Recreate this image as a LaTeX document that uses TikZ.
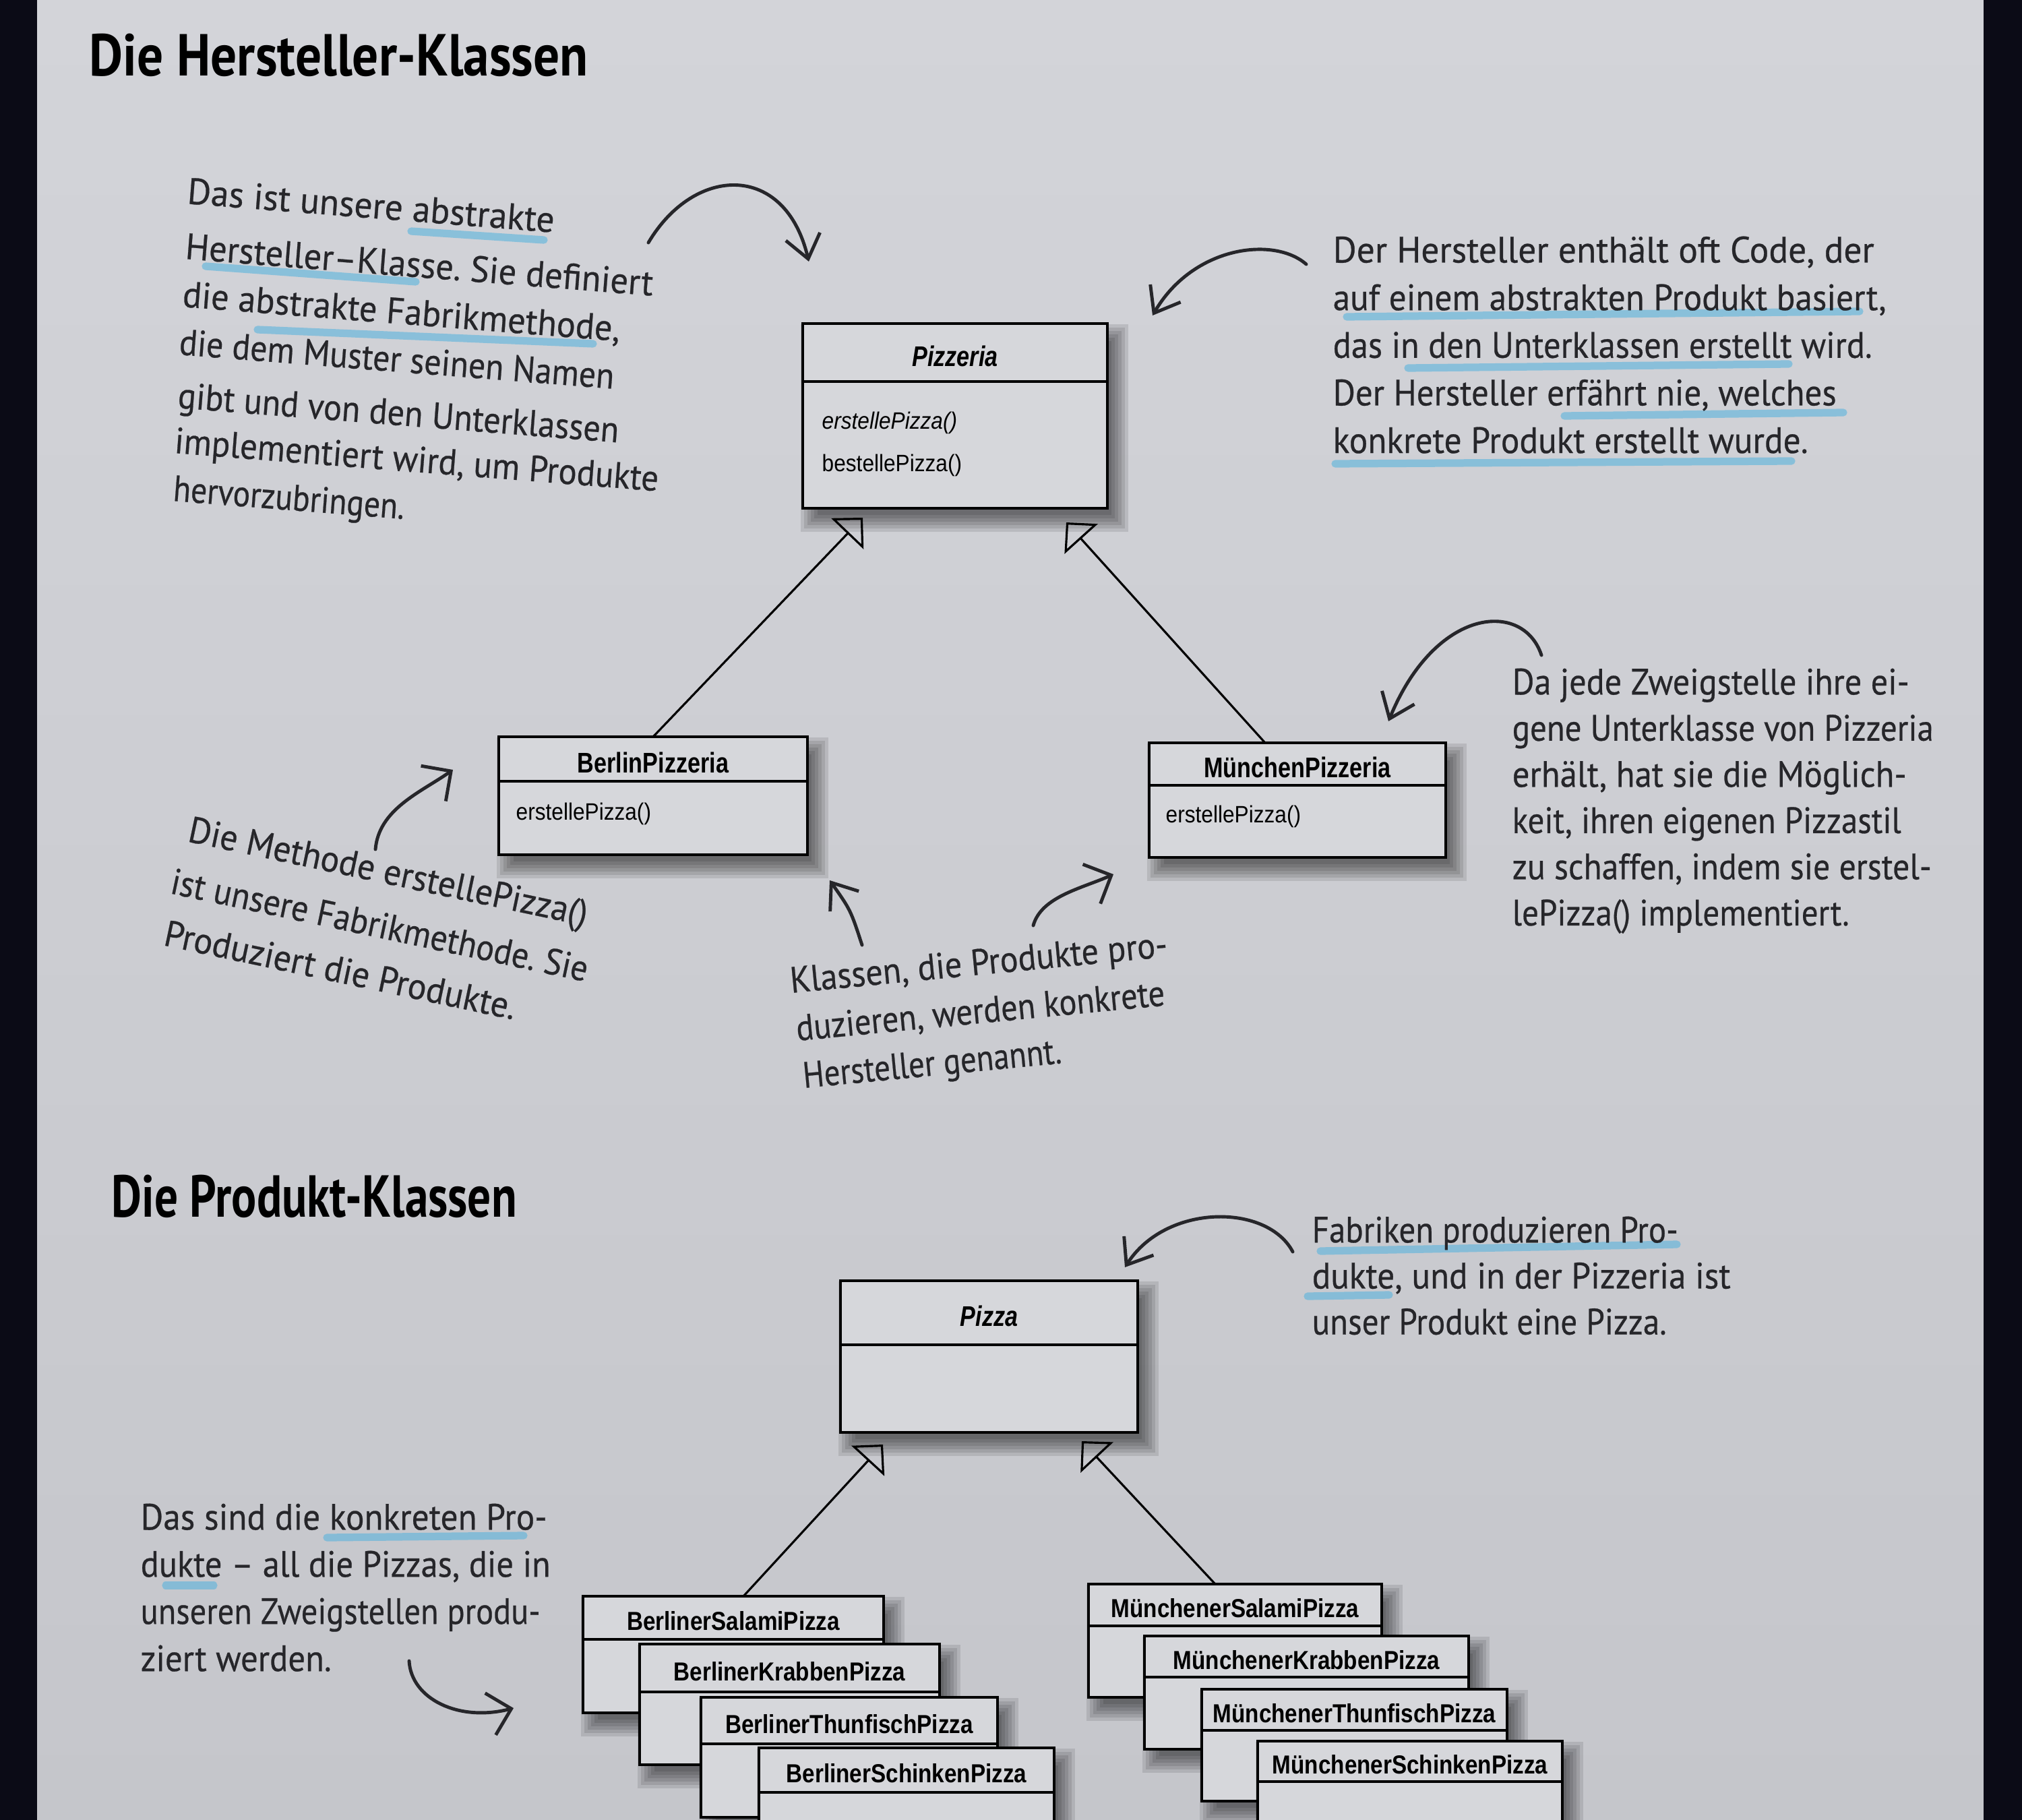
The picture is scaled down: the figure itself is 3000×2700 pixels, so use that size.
\documentclass[tikz,border=0pt]{standalone}
\usepackage{fontspec}
\usepackage{graphicx}
\usetikzlibrary{arrows.meta,calc}
\newfontfamily\hwfont[FakeBold=0.5]{PT Sans}
\newfontfamily\ttlfont{PT Sans}
\newfontfamily\umlfont[FakeStretch=0.81]{Liberation Sans}
\newfontfamily\umlsmall[FakeStretch=0.86]{Liberation Sans}
\newfontfamily\umlmeth[FakeStretch=0.9]{Liberation Sans}
\newlength\pxu \setlength\pxu{0.1mm}
\newcommand\hw[2]{\resizebox{#1\pxu}{\height}{#2}}
\newcommand\hwsetfont{\hwfont\fontsize{15.5}{20}\selectfont}
\newcounter{hwc}
\newdimen\hwlinew
\newdimen\hwwordw
\newdimen\hwspw
\makeatletter
% measure a slanted handwritten line (outside the picture): #1 key, #2 target width px, #3 words
\newcommand\hwmeasure[3]{%
  \settowidth\hwspw{\hwsetfont\ }%
  \global\hwlinew=-\hwspw
  \foreach \w in {#3}{\settowidth\hwwordw{\hwsetfont\w}\global\advance\hwlinew by \dimexpr\hwwordw+\hwspw\relax}%
  \pgfmathsetmacro\hwk{(#2*0.1mm)/(\the\hwlinew)}%
  \expandafter\xdef\csname hwk@#1\endcsname{\hwk}%
  \xdef\hwpos{0}%
  \global\let\hwlist\@empty
  \foreach \w in {#3}{%
    \settowidth\hwwordw{\hwsetfont\w}%
    \ifx\hwlist\@empty\xdef\hwlist{\hwpos/{\w}}\else\xdef\hwlist{\hwlist,\hwpos/{\w}}\fi
    \pgfmathsetmacro\hwnext{\hwpos+\hwk*(\the\hwwordw+\the\hwspw)/(0.1mm)}%
    \xdef\hwpos{\hwnext}%
  }%
  \expandafter\xdef\csname hwl@#1\endcsname{\hwlist}%
}
% place a measured line word by word (inside a rotated scope)
\newcommand\hwplace[1]{%
  \edef\hwkk{\csname hwk@#1\endcsname}%
  \edef\hwlistx{\csname hwl@#1\endcsname}%
  \foreach \p/\w in \hwlistx {%
    \stepcounter{hwc}%
    \node[hword] (hw\arabic{hwc}) at (\p,0) {\scalebox{\hwkk}[1]{\w}};%
  }%
}
\makeatother
\definecolor{pagetop}{HTML}{D3D4D9}
\definecolor{pagebot}{HTML}{C5C6CB}
\definecolor{edgecol}{HTML}{0B0B16}
\definecolor{boxcol}{HTML}{D6D7DB}
\definecolor{inkcol}{HTML}{26262A}
\definecolor{hlcol}{HTML}{4FB2DE}
\newcommand\boxshadow[4]{%
  \foreach \e in {-8,-3,2,7,12,17}{%
    \fill[black,opacity=0.1] ({#1+14-\e},{#2+18-\e}) rectangle ({#3+14+\e},{#4+18+\e});
  }}
\newcommand\umlclass[7]{%
  \boxshadow{#2}{#3}{#4}{#5}%
  \node[umlbox, anchor=north west, minimum width={(#4-#2)*0.1mm}, minimum height={(#5-#3)*0.1mm}] (#1) at (#2,#3) {};%
  \draw[umlline] (#2,#6) -- (#4,#6);%
  \node[umltitle] (#1t) at ({(#2+#4)/2},{(#3+#6)/2+5}) {#7};%
}
\begin{document}
\hwmeasure{A1}{546}{Das,ist,unsere,abstrakte}%
\hwmeasure{A2}{696}{Hersteller–Klasse.,Sie,definiert}%
\hwmeasure{A3}{651}{die,abstrakte,{Fabrikmethode,}}%
\hwmeasure{A4}{647}{die,dem,Muster,seinen,Namen}%
\hwmeasure{A5}{656}{gibt,und,von,den,Unterklassen}%
\hwmeasure{A6}{720}{implementiert,{wird,},um,Produkte}%
\hwmeasure{A7}{344}{hervorzubringen.}%
\hwmeasure{C1}{604}{Die,Methode,erstellePizza()}%
\hwmeasure{C2}{631}{ist,unsere,Fabrikmethode.,Sie}%
\hwmeasure{C3}{532}{Produziert,die,Produkte.}%
\hwmeasure{D1}{562}{{Klassen,},die,Produkte,pro-}%
\hwmeasure{D2}{549}{{duzieren,},werden,konkrete}%
\hwmeasure{D3}{385}{Hersteller,genannt.}%
\begin{tikzpicture}[x=0.1mm,y=-0.1mm,
  umlbox/.style={draw=black, line width=1.1pt, fill=boxcol, inner sep=0pt, outer sep=0pt},
  umlline/.style={draw=black, line width=1.1pt},
  umltitle/.style={inner sep=0pt, text=black, font=\umlfont\bfseries\fontsize{12}{14}\selectfont},
  umlmethod/.style={anchor=west, inner sep=0pt, text=black, font=\umlmeth\fontsize{10}{12}\selectfont},
  hwblock/.style={anchor=north west, align=left, inner sep=0pt, text=inkcol},
  hwf/.style={font=\hwfont\fontsize{15.5}{#1}\selectfont},
  hword/.style={anchor=base west, inner sep=0pt, outer sep=0pt, text=inkcol, font=\hwsetfont},
  ttl/.style={anchor=base west, inner sep=0pt, text=black, font=\ttlfont\bfseries\fontsize{25}{30}\selectfont},
  hl/.style={draw=hlcol, line width=3.2pt, opacity=0.55, line cap=round},
  gen/.style={draw=black, line width=0.9pt, -{Triangle[open, length=3.3mm, width=6.6mm]}},
  hwarrow/.style={draw=inkcol, line width=1.4pt, line cap=round, -{Straight Barb[length=3.4mm, width=5.2mm]}},
  hwarrowb/.style={draw=inkcol, line width=1.4pt, line cap=round, -{Straight Barb[length=3.2mm, width=6.4mm]}}
]
\useasboundingbox (0,0) rectangle (3000,2700);
\clip (0,0) rectangle (3000,2700);
% page
\shade[top color=pagetop, bottom color=pagebot] (0,0) rectangle (3000,2700);

% highlighter marks
\draw[hl] (610,343) -- (807,356);
\draw[hl] (305,395) -- (617,418);
\draw[hl] (382,489) -- (880,510);
\draw[hl] (1998,470) -- (2759,462);
\draw[hl] (2089,546) -- (2654,540);
\draw[hl] (2321,617) -- (2735,612);
\draw[hl] (1981,688) -- (2658,684);
\draw[hl] (1959,1856) -- (2488,1846);
\draw[hl] (1940,1923) -- (2061,1921);
\draw[hl] (485,2281) -- (777,2278);
\draw[hl] (246,2352) -- (317,2352);

% titles
\node[ttl] (title1) at (132,113) {\hw{740}{Die Hersteller-Klassen}};
\node[ttl] (title2) at (165,1805) {\hw{601}{Die Produkt-Klassen}};

% creator classes
\umlclass{pizzeria}{1191}{480}{1643}{754}{566}{\itshape Pizzeria}
\node[umlmethod] (pzm1) at (1219,627) {\itshape erstellePizza()};
\node[umlmethod] (pzm2) at (1219,690) {bestellePizza()};
\umlclass{berlin}{740}{1093}{1198}{1268}{1159}{BerlinPizzeria}
\node[umlmethod] (bm1) at (765,1207) {erstellePizza()};
\umlclass{muenchen}{1705}{1102}{2145}{1272}{1165}{MünchenPizzeria}
\node[umlmethod] (mm1) at (1729,1211) {erstellePizza()};

\coordinate (pzL) at (1280,768);
\coordinate (pzR) at (1582,775);
\draw[gen] (berlin.north) -- (pzL);
\draw[gen] ($(muenchen.north west)+(172,0)$) -- (pzR);

% product classes
\umlclass{pizza}{1247}{1900}{1688}{2125}{1995}{\itshape Pizza}
\umlclass{bs}{865}{2368}{1311}{2541}{2432}{\umlsmall\fontsize{11}{13}\selectfont\bfseries BerlinerSalamiPizza}
\umlclass{bk}{949}{2439}{1394}{2618}{2510}{\umlsmall\fontsize{11}{13}\selectfont\bfseries BerlinerKrabbenPizza}
\umlclass{bt}{1040}{2518}{1480}{2696}{2587}{\umlsmall\fontsize{11}{13}\selectfont\bfseries BerlinerThunfischPizza}
\umlclass{bsch}{1126}{2593}{1564}{2775}{2659}{\umlsmall\fontsize{11}{13}\selectfont\bfseries BerlinerSchinkenPizza}
\umlclass{ms}{1615}{2350}{2050}{2518}{2412}{\umlsmall\fontsize{11}{13}\selectfont\bfseries MünchenerSalamiPizza}
\umlclass{mk}{1698}{2427}{2179}{2595}{2488}{\umlsmall\fontsize{11}{13}\selectfont\bfseries MünchenerKrabbenPizza}
\umlclass{mt}{1783}{2506}{2236}{2672}{2567}{\umlsmall\fontsize{11}{13}\selectfont\bfseries MünchenerThunfischPizza}
\umlclass{msch}{1866}{2583}{2318}{2760}{2643}{\umlsmall\fontsize{11}{13}\selectfont\bfseries MünchenerSchinkenPizza}

\coordinate (paL) at (1310,2143);
\coordinate (paR) at (1605,2138);
\draw[gen] ($(bs.north west)+(238,0)$) -- (paL);
\draw[gen] ($(ms.north west)+(188,0)$) -- (paR);

% annotation A (slanted)
\begin{scope}[shift={(277,302)}, rotate=-4.5, transform shape]\hwplace{A1}\end{scope}
\begin{scope}[shift={(274,384)}, rotate=-4.5, transform shape]\hwplace{A2}\end{scope}
\begin{scope}[shift={(270,455)}, rotate=-4.5, transform shape]\hwplace{A3}\end{scope}
\begin{scope}[shift={(265,526)}, rotate=-4.5, transform shape]\hwplace{A4}\end{scope}
\begin{scope}[shift={(263,605)}, rotate=-4.5, transform shape]\hwplace{A5}\end{scope}
\begin{scope}[shift={(258,672)}, rotate=-4.5, transform shape]\hwplace{A6}\end{scope}
\begin{scope}[shift={(256,743)}, rotate=-4.5, transform shape]\hwplace{A7}\end{scope}

% annotation B
\node[hwblock, hwf=20.1] (annB) at (1977,350) {%
  \hw{803}{Der Hersteller enthält oft Code, der}\\
  \hw{821}{auf einem abstrakten Produkt basiert,}\\
  \hw{800}{das in den Unterklassen erstellt wird.}\\
  \hw{747}{Der Hersteller erfährt nie, welches}\\
  \hw{705}{konkrete Produkt erstellt wurde.}};

% annotation C (slanted)
\begin{scope}[shift={(277,1248)}, rotate=-12, transform shape]\hwplace{C1}\end{scope}
\begin{scope}[shift={(251,1325)}, rotate=-12, transform shape]\hwplace{C2}\end{scope}
\begin{scope}[shift={(241,1402)}, rotate=-12, transform shape]\hwplace{C3}\end{scope}

% annotation D (slanted)
\begin{scope}[shift={(1174,1473)}, rotate=5.5, transform shape]\hwplace{D1}\end{scope}
\begin{scope}[shift={(1183,1544)}, rotate=5.5, transform shape]\hwplace{D2}\end{scope}
\begin{scope}[shift={(1193,1614)}, rotate=5.5, transform shape]\hwplace{D3}\end{scope}

% annotation E
\node[hwblock, hwf=19.5] (annE) at (2243,991) {%
  \hw{589}{Da jede Zweigstelle ihre ei-}\\
  \hw{625}{gene Unterklasse von Pizzeria}\\
  \hw{585}{erhält, hat sie die Möglich-}\\
  \hw{577}{keit, ihren eigenen Pizzastil}\\
  \hw{622}{zu schaffen, indem sie erstel-}\\
  \hw{500}{lePizza() implementiert.}};

% annotation F
\node[hwblock, hwf=19.4] (annF) at (1946,1804) {%
  \hw{543}{Fabriken produzieren Pro-}\\
  \hw{621}{dukte, und in der Pizzeria ist}\\
  \hw{526}{unser Produkt eine Pizza.}};

% annotation G
\node[hwblock, hwf=19.9] (annG) at (208,2230) {%
  \hw{603}{Das sind die konkreten Pro-}\\
  \hw{608}{dukte – all die Pizzas, die in}\\
  \hw{593}{unseren Zweigstellen produ-}\\
  \hw{283}{ziert werden.}};

% hand-drawn arrows
\coordinate (ar1s) at (962,360);   \coordinate (ar1e) at (1200,388);
\coordinate (ar2s) at (1938,392);  \coordinate (ar2e) at (1710,468);
\coordinate (ar3s) at (2287,972);  \coordinate (ar3e) at (2060,1070);
\coordinate (ar4s) at (557,1260);  \coordinate (ar4e) at (672,1142);
\coordinate (ar5s) at (1279,1402); \coordinate (ar5e) at (1231,1306);
\coordinate (ar6s) at (1533,1373); \coordinate (ar6e) at (1652,1297);
\coordinate (ar7s) at (1918,1857); \coordinate (ar7e) at (1669,1880);
\coordinate (ar8s) at (607,2464);  \coordinate (ar8e) at (762,2534);
\draw[hwarrow] (ar1s) .. controls (1030,245) and (1165,240) .. (ar1e);
\draw[hwarrow] (ar2s) .. controls (1890,350) and (1770,365) .. (ar2e);
\draw[hwarrow] (ar3s) .. controls (2260,890) and (2130,900) .. (ar3e);
\draw[hwarrowb] (ar4s) .. controls (562,1200) and (625,1175) .. (ar4e);
\draw[hwarrow] (ar5s) .. controls (1262,1350) .. (ar5e);
\draw[hwarrowb] (ar6s) .. controls (1545,1330) and (1605,1318) .. (ar6e);
\draw[hwarrow] (ar7s) .. controls (1880,1785) and (1730,1785) .. (ar7e);
\draw[hwarrowb] (ar8s) .. controls (610,2520) and (680,2555) .. (ar8e);

% photo edges
\fill[edgecol] (0,0) rectangle (55,2700);
\fill[edgecol] (2943,0) rectangle (3000,2700);
\end{tikzpicture}
\end{document}
